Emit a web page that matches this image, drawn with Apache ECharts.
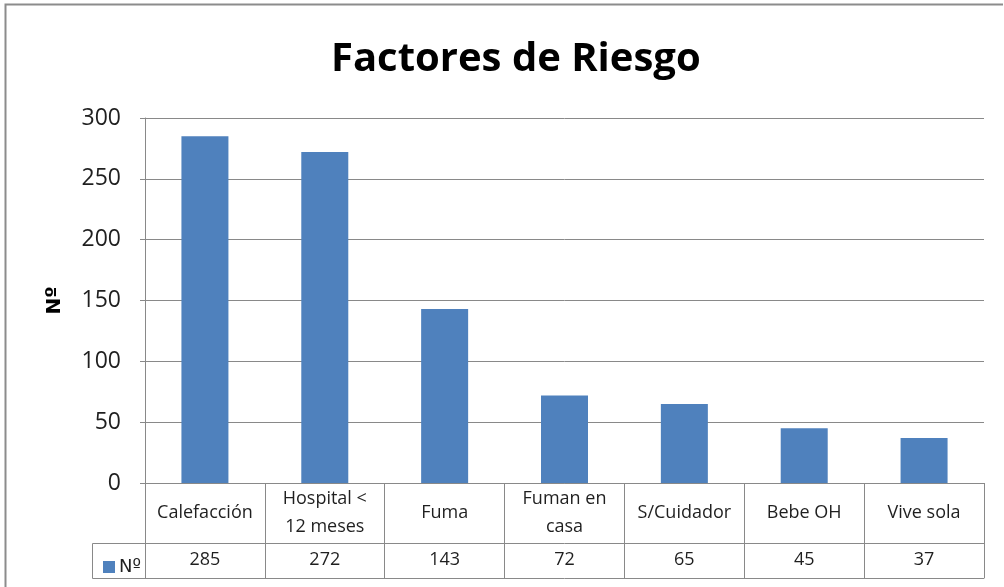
<!DOCTYPE html>
<html>
<head>
<meta charset="utf-8">
<script src="https://cdn.jsdelivr.net/npm/echarts@6/dist/echarts.min.js"></script>
<style>
  html, body { margin: 0; padding: 0; background: #fff; }
  #chart { width: 1004px; height: 587px; }
</style>
</head>
<body>
<div id="chart"></div>
<script>
const categories = ['Calefacción', 'Hospital <\n12 meses', 'Fuma', 'Fuman en\ncasa', 'S/Cuidador', 'Bebe OH', 'Vive sola']
const values = [285, 272, 143, 72, 65, 45, 37]
const seriesName = 'Nº'
const yTicks = { min: 0, max: 300, interval: 50 }

const lineColor = '#898989'
const textColor = '#1f1f1f'
const font = '"Open Sans", "Liberation Sans", sans-serif'
const ordinalFont = '"DejaVu Sans", sans-serif'

const chart = echarts.init(document.getElementById('chart'))

chart.setOption({
  animation: false,
  backgroundColor: '#fff',
  title: {
    text: 'Factores de Riesgo',
    left: 326,
    top: 35,
    textStyle: { fontFamily: font, fontSize: 40, fontWeight: 'bold', color: '#000' }
  },
  legend: {
    left: 98,
    top: 553,
    itemWidth: 12,
    itemHeight: 12,
    itemGap: 4,
    icon: 'rect',
    textStyle: { fontFamily: ordinalFont, fontSize: 18, color: textColor, padding: [0, 0, 0, -1] },
    data: [seriesName]
  },
  grid: { left: 145, right: 20, top: 118, bottom: 104 },
  xAxis: [
    {
      type: 'category',
      data: categories,
      position: 'bottom',
      axisLine: { lineStyle: { color: lineColor } },
      axisTick: { show: true, length: 95, alignWithLabel: false, lineStyle: { color: lineColor } },
      axisLabel: {
        margin: 30,
        verticalAlign: 'middle',
        interval: 0,
        fontFamily: font,
        fontSize: 18,
        lineHeight: 28,
        color: textColor
      }
    },
    {
      type: 'category',
      data: values.map(String),
      position: 'bottom',
      offset: 60,
      axisLine: { show: true, lineStyle: { color: lineColor } },
      axisTick: { show: false },
      axisLabel: {
        margin: 17,
        verticalAlign: 'middle',
        interval: 0,
        fontFamily: font,
        fontSize: 18,
        color: textColor
      }
    },
    {
      type: 'category',
      data: categories,
      position: 'bottom',
      offset: 95,
      axisLine: { show: true, lineStyle: { color: lineColor } },
      axisTick: { show: false },
      axisLabel: { show: false }
    }
  ],
  yAxis: {
    type: 'value',
    min: yTicks.min,
    max: yTicks.max,
    interval: yTicks.interval,
    name: seriesName,
    nameLocation: 'middle',
    nameGap: 80,
    nameRotate: 90,
    nameTextStyle: { fontFamily: ordinalFont, fontSize: 20, fontWeight: 'bold', color: '#000' },
    axisLine: { show: true, lineStyle: { color: lineColor } },
    axisTick: { show: true, length: 5, lineStyle: { color: lineColor } },
    axisLabel: { margin: 24, fontFamily: font, fontSize: 23, color: textColor },
    splitLine: { lineStyle: { color: lineColor } }
  },
  series: [{
    name: seriesName,
    type: 'bar',
    xAxisIndex: 0,
    data: values,
    barWidth: 47,
    itemStyle: { color: '#4F81BD' }
  }],
  graphic: [
    {
      type: 'rect',
      shape: { x: 92.5, y: 543.5, width: 53, height: 35 },
      style: { fill: 'none', stroke: lineColor, lineWidth: 1 },
      z: 10
    },
    {
      type: 'polyline',
      shape: { points: [[1003, 4.5], [5.5, 4.5], [5.5, 587]] },
      style: { fill: 'none', stroke: '#8c8c8c', lineWidth: 2 },
      z: 10
    }
  ]
})
</script>
</body>
</html>
